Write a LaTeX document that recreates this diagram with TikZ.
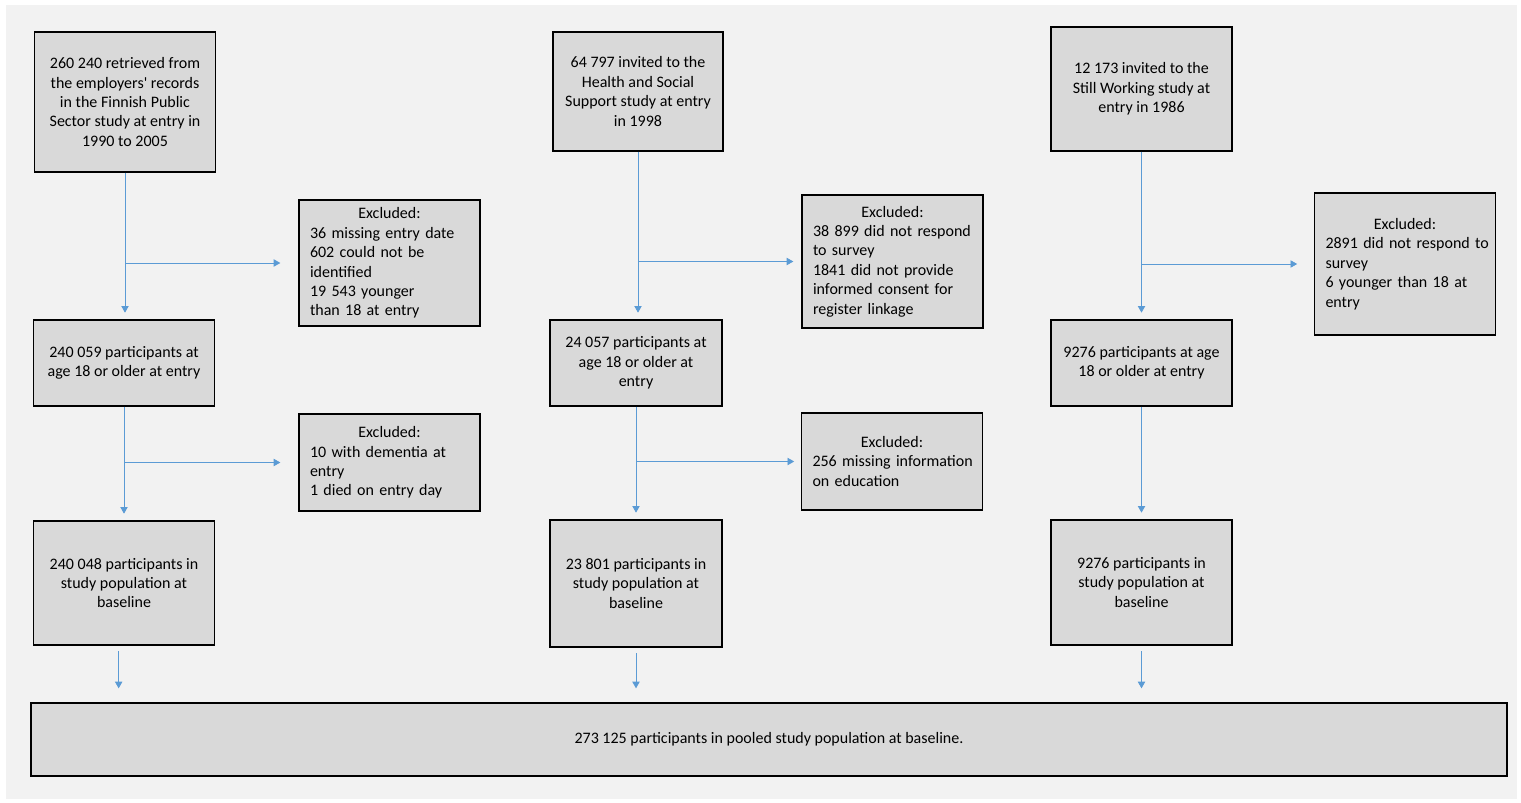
\documentclass[tikz,border=0pt]{standalone}
\usepackage{fontspec}
\setmainfont{Carlito}
\usetikzlibrary{arrows.meta}
\definecolor{boxgray}{RGB}{217,217,217}
\definecolor{bggray}{RGB}{242,242,242}
\definecolor{flowblue}{RGB}{91,155,213}

\begin{document}
\begin{tikzpicture}[x=0.75pt, y=-0.75pt,
      box/.style={draw, line width=1pt, fill=boxgray, align=center, minimum width=135.75pt,
                  inner xsep=8.25pt, font=\fontsize{12}{14.6}\selectfont},
      exbox/.style={box, align=left, text width=119.25pt},
      arr/.style={-{Triangle[length=5pt, width=5.5pt]}, line width=0.6pt, flowblue}]
    \useasboundingbox (0,0) rectangle (1521,803);
    \fill[bggray] (6,5) rectangle (1517,799);
    % Finnish Public Sector
    \node[box, minimum height=105pt] (fps1) at (125,102)
         {260~240 retrieved from\\the employers\textquotesingle{} records\\in the Finnish Public\\Sector study at entry in\\1990 to 2005};
    \node[exbox, minimum height=94.5pt] (fpsx1) at (389.5,263)
         {\makebox[\hsize]{Excluded:}\\36 missing entry date\\602 could not be\\identified\\19~543 younger\\than 18 at entry};
    \node[box, minimum height=64.5pt] (fps2) at (124,363)
         {240~059 participants at\\age 18 or older at entry};
    \node[exbox, minimum height=72.75pt] (fpsx2) at (389.5,462.5)
         {\makebox[\hsize]{Excluded:}\\10 with dementia at\\entry\\1 died on entry day};
    \node[box, minimum height=93pt] (fps3) at (124,583)
         {240~048 participants in\\study population at\\baseline};
    % Health and Social Support
    \node[box, minimum width=127.5pt, minimum height=89.25pt] (hss1) at (638,91.5)
         {64~797 invited to the\\Health and Social\\Support study at entry\\in 1998};
    \node[exbox, minimum height=99.75pt] (hssx1) at (892.5,261.5)
         {\makebox[\hsize]{Excluded:}\\38~899 did not respond\\to survey\\1841 did not provide\\informed consent for\\register linkage};
    \node[box, minimum width=129pt, minimum height=64.5pt] (hss2) at (636,363)
         {24~057 participants at\\age 18 or older at\\entry};
    \node[exbox, minimum height=72.75pt] (hssx2) at (892,461.5)
         {\makebox[\hsize]{Excluded:}\\\mbox{256 missing information}\\on education};
    \node[box, minimum width=129pt, minimum height=95.25pt] (hss3) at (636,583.5)
         {23~801 participants in\\study population at\\baseline};
    % Still Working
    \node[box, minimum height=93pt] (sw1) at (1141.5,89)
         {12~173 invited to the\\Still Working study at\\entry in 1986};
    \node[exbox, minimum height=106.5pt] (swx1) at (1405,264)
         {\makebox[\hsize]{Excluded:}\\\mbox{2891 did not respond to}\\survey\\6 younger than 18 at\\entry};
    \node[box, minimum height=64.5pt] (sw2) at (1141.5,363)
         {9276 participants at age\\18 or older at entry};
    \node[box, minimum height=93.75pt] (sw3) at (1141.5,582.5)
         {9276 participants in\\study population at\\baseline};
    % pooled
    \node[box, minimum width=1107pt, minimum height=54.75pt] (pooled) at (769,739.5)
         {273~125 participants in pooled study population at baseline.};

    \draw[arr, shorten >=5pt] (fps1.south) -- (fps1.south |- fps2.north);
    \draw[arr, shorten >=13.5pt] (fps1.south |- fpsx1.west) -- (fpsx1.west);
    \draw[arr, shorten >=5pt] (fps2.south) -- (fps2.south |- fps3.north);
    \draw[arr, shorten >=13.5pt] (fps2.south |- fpsx2.west) -- (fpsx2.west);

    \draw[arr, shorten >=5pt] (hss1.south) -- (hss1.south |- hss2.north);
    \draw[arr, shorten >=6pt] (hss1.south |- hssx1.west) -- (hssx1.west);
    \draw[arr, shorten >=5pt] (hss2.south) -- (hss2.south |- hss3.north);
    \draw[arr, shorten >=5pt] (hss2.south |- hssx2.west) -- (hssx2.west);

    \draw[arr, shorten >=5pt] (sw1.south) -- (sw1.south |- sw2.north);
    \draw[arr, shorten >=12.5pt] (sw1.south |- swx1.west) -- (swx1.west);
    \draw[arr, shorten >=5pt] (sw2.south) -- (sw2.south |- sw3.north);

    \coordinate (fpsout) at ([xshift=-4pt]fps3.south);
    \draw[arr, shorten <=4pt, shorten >=10.5pt] (fpsout) -- (fpsout |- pooled.north);
    \draw[arr, shorten <=4pt, shorten >=10.5pt] (hss3.south) -- (hss3.south |- pooled.north);
    \draw[arr, shorten <=4pt, shorten >=10.5pt] (sw3.south) -- (sw3.south |- pooled.north);
  \end{tikzpicture}
\end{document}
